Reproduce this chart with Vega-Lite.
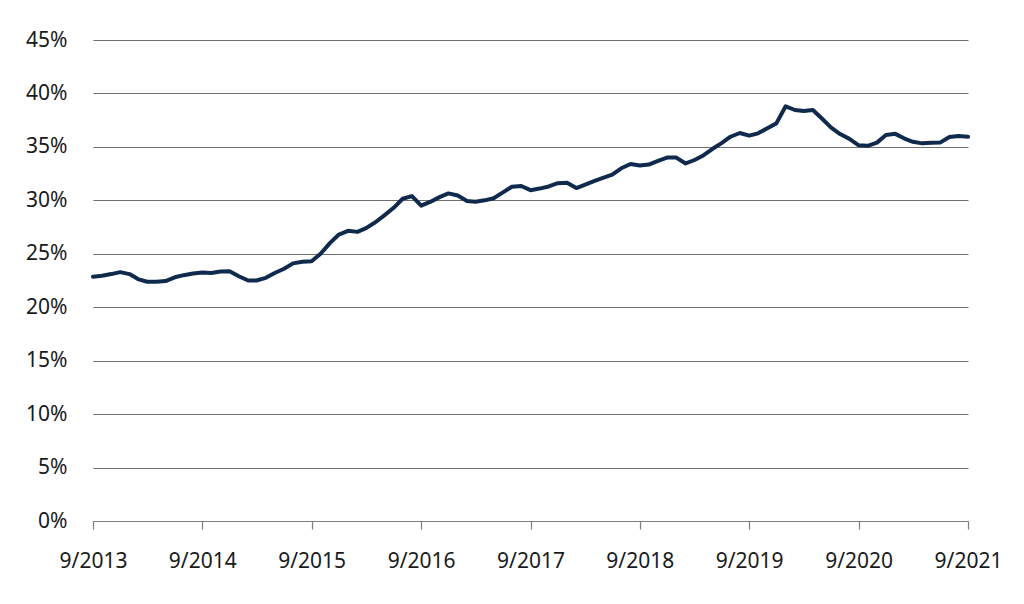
{
  "$schema": "https://vega.github.io/schema/vega-lite/v6.json",
  "width": 875,
  "height": 481,
  "autosize": "none",
  "padding": {"left": 93, "top": 40, "right": 56, "bottom": 83},
  "background": "white",
  "config": {"view": {"stroke": null}, "font": "Noto Sans"},
  "data": {"values": [
    {"date": "2013-09-01", "v": 22.85}, {"date": "2013-10-01", "v": 22.95}, {"date": "2013-11-01", "v": 23.1}, {"date": "2013-12-01", "v": 23.28},
    {"date": "2014-01-01", "v": 23.1}, {"date": "2014-02-01", "v": 22.6}, {"date": "2014-03-01", "v": 22.38}, {"date": "2014-04-01", "v": 22.38},
    {"date": "2014-05-01", "v": 22.45}, {"date": "2014-06-01", "v": 22.8}, {"date": "2014-07-01", "v": 23.0}, {"date": "2014-08-01", "v": 23.15},
    {"date": "2014-09-01", "v": 23.25}, {"date": "2014-10-01", "v": 23.2}, {"date": "2014-11-01", "v": 23.35}, {"date": "2014-12-01", "v": 23.36},
    {"date": "2015-01-01", "v": 22.9}, {"date": "2015-02-01", "v": 22.5}, {"date": "2015-03-01", "v": 22.5}, {"date": "2015-04-01", "v": 22.75},
    {"date": "2015-05-01", "v": 23.2}, {"date": "2015-06-01", "v": 23.6}, {"date": "2015-07-01", "v": 24.1}, {"date": "2015-08-01", "v": 24.26},
    {"date": "2015-09-01", "v": 24.3}, {"date": "2015-10-01", "v": 25.0}, {"date": "2015-11-01", "v": 26.0}, {"date": "2015-12-01", "v": 26.8},
    {"date": "2016-01-01", "v": 27.15}, {"date": "2016-02-01", "v": 27.05}, {"date": "2016-03-01", "v": 27.4}, {"date": "2016-04-01", "v": 27.95},
    {"date": "2016-05-01", "v": 28.6}, {"date": "2016-06-01", "v": 29.3}, {"date": "2016-07-01", "v": 30.15}, {"date": "2016-08-01", "v": 30.4},
    {"date": "2016-09-01", "v": 29.5}, {"date": "2016-10-01", "v": 29.85}, {"date": "2016-11-01", "v": 30.3}, {"date": "2016-12-01", "v": 30.65},
    {"date": "2017-01-01", "v": 30.45}, {"date": "2017-02-01", "v": 29.93}, {"date": "2017-03-01", "v": 29.87}, {"date": "2017-04-01", "v": 30.0},
    {"date": "2017-05-01", "v": 30.2}, {"date": "2017-06-01", "v": 30.75}, {"date": "2017-07-01", "v": 31.27}, {"date": "2017-08-01", "v": 31.34},
    {"date": "2017-09-01", "v": 30.95}, {"date": "2017-10-01", "v": 31.1}, {"date": "2017-11-01", "v": 31.3}, {"date": "2017-12-01", "v": 31.6},
    {"date": "2018-01-01", "v": 31.65}, {"date": "2018-02-01", "v": 31.15}, {"date": "2018-03-01", "v": 31.45}, {"date": "2018-04-01", "v": 31.8},
    {"date": "2018-05-01", "v": 32.1}, {"date": "2018-06-01", "v": 32.4}, {"date": "2018-07-01", "v": 33.0}, {"date": "2018-08-01", "v": 33.4},
    {"date": "2018-09-01", "v": 33.25}, {"date": "2018-10-01", "v": 33.35}, {"date": "2018-11-01", "v": 33.7}, {"date": "2018-12-01", "v": 34.0},
    {"date": "2019-01-01", "v": 34.0}, {"date": "2019-02-01", "v": 33.45}, {"date": "2019-03-01", "v": 33.75}, {"date": "2019-04-01", "v": 34.2},
    {"date": "2019-05-01", "v": 34.8}, {"date": "2019-06-01", "v": 35.35}, {"date": "2019-07-01", "v": 35.95}, {"date": "2019-08-01", "v": 36.3},
    {"date": "2019-09-01", "v": 36.05}, {"date": "2019-10-01", "v": 36.27}, {"date": "2019-11-01", "v": 36.75}, {"date": "2019-12-01", "v": 37.2},
    {"date": "2020-01-01", "v": 38.8}, {"date": "2020-02-01", "v": 38.45}, {"date": "2020-03-01", "v": 38.35}, {"date": "2020-04-01", "v": 38.45},
    {"date": "2020-05-01", "v": 37.65}, {"date": "2020-06-01", "v": 36.8}, {"date": "2020-07-01", "v": 36.2}, {"date": "2020-08-01", "v": 35.75},
    {"date": "2020-09-01", "v": 35.15}, {"date": "2020-10-01", "v": 35.1}, {"date": "2020-11-01", "v": 35.4}, {"date": "2020-12-01", "v": 36.12},
    {"date": "2021-01-01", "v": 36.22}, {"date": "2021-02-01", "v": 35.78}, {"date": "2021-03-01", "v": 35.48}, {"date": "2021-04-01", "v": 35.33},
    {"date": "2021-05-01", "v": 35.38}, {"date": "2021-06-01", "v": 35.42}, {"date": "2021-07-01", "v": 35.92}, {"date": "2021-08-01", "v": 36.02},
    {"date": "2021-09-01", "v": 35.95}
  ]},
  "mark": {"type": "line", "color": "#0f2a4d", "strokeWidth": 4, "strokeJoin": "round", "strokeCap": "round"},
  "encoding": {
    "x": {
      "field": "date", "type": "temporal", "title": null,
      "scale": {"domain": [{"year": 2013, "month": 9, "date": 1}, {"year": 2021, "month": 9, "date": 1}]},
      "axis": {
        "values": [
          {"year": 2013, "month": 9, "date": 1}, {"year": 2014, "month": 9, "date": 1}, {"year": 2015, "month": 9, "date": 1},
          {"year": 2016, "month": 9, "date": 1}, {"year": 2017, "month": 9, "date": 1}, {"year": 2018, "month": 9, "date": 1},
          {"year": 2019, "month": 9, "date": 1}, {"year": 2020, "month": 9, "date": 1}, {"year": 2021, "month": 9, "date": 1}
        ],
        "format": "%-m/%Y", "grid": false,
        "domainColor": "#7f7f7f", "domainWidth": 1.2, "tickColor": "#7f7f7f", "tickWidth": 1.2, "tickSize": 8,
        "labelFont": "Noto Sans", "labelFontSize": 21, "labelColor": "#1a1a1a", "labelPadding": 21,
        "labelOverlap": false, "labelFlush": false
      }
    },
    "y": {
      "field": "v", "type": "quantitative", "title": null,
      "scale": {"domain": [0, 45], "nice": false},
      "axis": {
        "values": [0, 5, 10, 15, 20, 25, 30, 35, 40, 45],
        "labelExpr": "datum.value + '%'",
        "domain": false, "ticks": false, "grid": true,
        "gridColor": "#6f6f6f", "gridWidth": 1.1,
        "labelFont": "Noto Sans", "labelFontSize": 21, "labelColor": "#1a1a1a", "labelPadding": 26
      }
    }
  }
}
